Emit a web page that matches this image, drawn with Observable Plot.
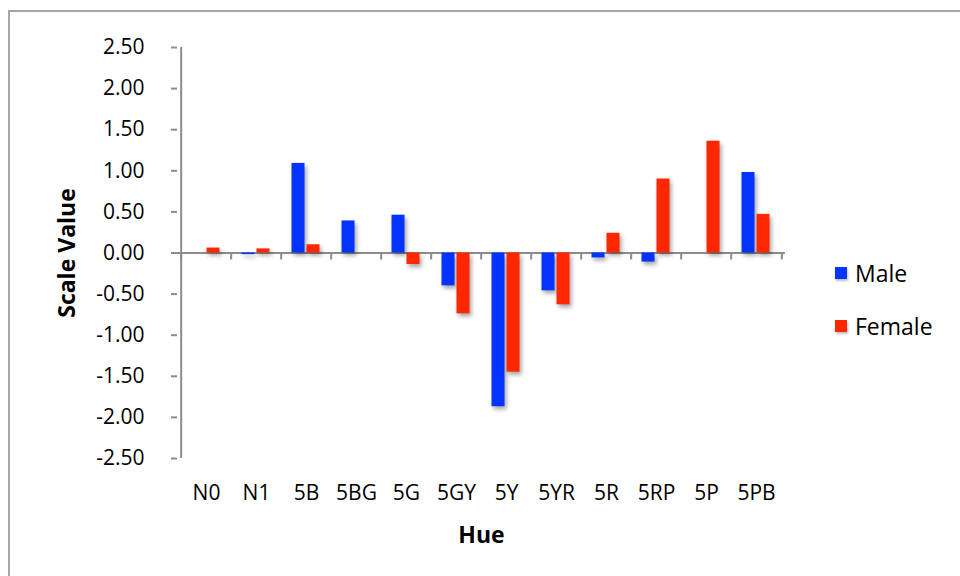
<!DOCTYPE html>
<html>
<head>
<meta charset="utf-8">
<script src="https://cdn.jsdelivr.net/npm/d3@7"></script>
<script src="https://cdn.jsdelivr.net/npm/@observablehq/plot@0.6"></script>
<style>
  body { margin: 0; background: #fff; font-family: "Open Sans", sans-serif; }
  #wrap { position: relative; width: 960px; height: 576px; overflow: hidden; background: #fff; }
  #frame { position: absolute; left: 8px; top: 10px; width: 980px; height: 600px;
           border-left: 2px solid #a6a6a6; border-top: 2px solid #a6a6a6; }
  #chart { position: absolute; left: 0; top: 0; }
  #legend { position: absolute; left: 835px; top: 0; font-size: 23px; color: #000; }
  .item { position: absolute; left: 0; white-space: nowrap; display: flex; align-items: center; }
  .sw { width: 12px; height: 12px; margin-right: 8px; box-shadow: 1px 2px 2px rgba(0,0,0,0.25); }
</style>
</head>
<body>
<div id="wrap">
  <div id="frame"></div>
  <div id="chart"></div>
  <div id="legend"></div>
</div>
<script>
const hues = ["N0","N1","5B","5BG","5G","5GY","5Y","5YR","5R","5RP","5P","5PB"];
const male   = [0.00, -0.02, 1.09, 0.39, 0.46, -0.40, -1.87, -0.46, -0.06, -0.11, 0.00, 0.98];
const female = [0.06,  0.05, 0.10, 0.00, -0.14, -0.74, -1.45, -0.63, 0.24, 0.90, 1.36, 0.47];
const series = ["Male", "Female"];
const colors = ["#0433FF", "#FF2600"];
const yTicks = [2.5, 2, 1.5, 1, 0.5, 0, -0.5, -1, -1.5, -2, -2.5];
const xTitle = "Hue";
const yTitle = "Scale Value";

const maleData = hues.map((h, i) => ({hue: h, sex: series[0], value: male[i]}));
const femaleData = hues.map((h, i) => ({hue: h, sex: series[1], value: female[i]}));

const width = 960, height = 576;
const marginLeft = 177, marginRight = 175, marginTop = 47, marginBottom = 118;
const step = (width - marginLeft - marginRight) / hues.length;
const axisColor = "#8c8c8c";

const chart = Plot.plot({
  width, height, marginLeft, marginRight, marginTop, marginBottom,
  style: {fontFamily: "'Open Sans', sans-serif", fontSize: "21px", color: "#000", background: "transparent", overflow: "visible"},
  x: {type: "band", domain: hues, padding: 0, label: null},
  y: {domain: [-2.5, 2.5], label: null},
  color: {domain: series, range: colors},
  marks: [
    Plot.ruleY([0], {stroke: axisColor, strokeWidth: 2}),
    Plot.ruleX([hues[0]], {x: d => d, dx: -step / 2, stroke: axisColor, strokeWidth: 2}),
    Plot.ruleX(hues, {x: d => d, y1: 0, y2: 0, dx: -step / 2, insetBottom: -7, stroke: axisColor, strokeWidth: 2}),
    Plot.ruleX([hues[hues.length - 1]], {x: d => d, y1: 0, y2: 0, dx: step / 2, insetBottom: -7, stroke: axisColor, strokeWidth: 2}),
    Plot.barY(maleData, {x: "hue", y: "value", fill: "sex", insetLeft: 10.5, insetRight: 26.5}),
    Plot.barY(femaleData, {x: "hue", y: "value", fill: "sex", insetLeft: 25.5, insetRight: 11.5}),
    Plot.axisY({ticks: yTicks, tickFormat: d => d.toFixed(2), tickSize: 6, tickPadding: 27, stroke: axisColor, strokeWidth: 2, strokeOpacity: 1, label: null, fill: "#000"}),
    Plot.axisX({tickSize: 0, tickPadding: 27, label: null, fill: "#000"}),
    Plot.text([yTitle], {frameAnchor: "left", textAnchor: "middle", dx: -110, rotate: -90, fontWeight: "bold", fontSize: 23, fill: "#000"}),
    Plot.text([xTitle], {frameAnchor: "bottom", dy: 84, fontWeight: "bold", fontSize: 23, fill: "#000"})
  ]
});
chart.querySelectorAll('g[aria-label="bar"]').forEach(g => {
  g.style.filter = "drop-shadow(2px 3px 2px rgba(0,0,0,0.35))";
});
document.getElementById("chart").appendChild(chart);

const legend = document.getElementById("legend");
const legendTops = [257, 310];
series.forEach((s, i) => {
  const item = document.createElement("div");
  item.className = "item";
  item.style.top = legendTops[i] + "px";
  const sw = document.createElement("span");
  sw.className = "sw";
  sw.style.background = colors[i];
  const t = document.createElement("span");
  t.textContent = s;
  item.appendChild(sw); item.appendChild(t);
  legend.appendChild(item);
});
</script>
</body>
</html>
